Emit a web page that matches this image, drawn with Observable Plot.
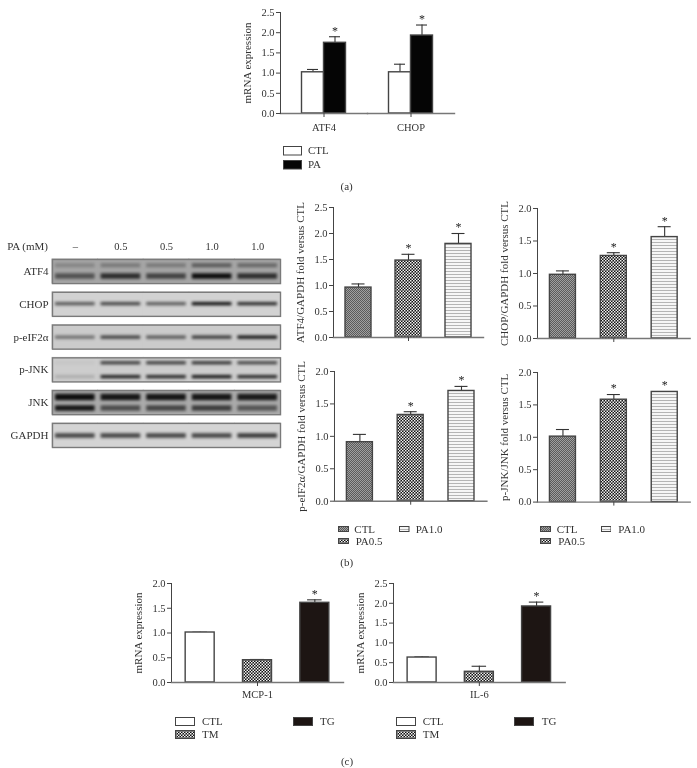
<!DOCTYPE html>
<html><head><meta charset="utf-8">
<script src="https://cdn.jsdelivr.net/npm/d3@7"></script>
<script src="https://cdn.jsdelivr.net/npm/@observablehq/plot@0.6"></script>
<style>
html,body{margin:0;padding:0;background:#fff}
#page{position:relative;width:697px;height:768px;overflow:hidden;font-family:"Liberation Serif",serif;color:#333;filter:blur(0.35px)}
.t{position:absolute;font-size:11px;line-height:12px;white-space:nowrap}
.c{transform:translateX(-50%)}
.s{position:absolute}
</style></head><body>
<div id="page">
<svg width="0" height="0" style="position:absolute"><defs>
<pattern id="fine" width="2" height="2" patternUnits="userSpaceOnUse"><rect width="2" height="2" fill="#a0a0a0"/><rect width="1" height="1" fill="#5a5a5a"/><rect x="1" y="1" width="1" height="1" fill="#5a5a5a"/></pattern>
<pattern id="check" width="3" height="3" patternUnits="userSpaceOnUse"><rect width="3" height="3" fill="#111"/><rect width="1.5" height="1.5" fill="#f2f2f2"/><rect x="1.5" y="1.5" width="1.5" height="1.5" fill="#f2f2f2"/></pattern>
<pattern id="stripe" width="3" height="3" patternUnits="userSpaceOnUse"><rect width="3" height="3" fill="#f6f6f6"/><rect width="3" height="1" fill="#b4b4b4"/></pattern>
</defs></svg>
</div>
<script>
// ---------- data ----------
const genesA = ["ATF4", "CHOP"];
const groupsA = ["CTL", "PA"];
const valuesA = [1.02, 1.75, 1.02, 1.93];
const topsA = [1.09, 1.90, 1.22, 2.19];
const starsA = [false, true, false, true];

const groupsB = ["CTL", "PA0.5", "PA1.0"];
const starsB = [false, true, true];
const atf4Values = [0.96, 1.48, 1.80];
const atf4Tops = [1.03, 1.60, 2.00];
const chopValues = [0.98, 1.27, 1.56];
const chopTops = [1.04, 1.32, 1.72];
const eif2Values = [0.91, 1.33, 1.70];
const eif2Tops = [1.03, 1.38, 1.77];
const jnkValues = [1.01, 1.58, 1.70];
const jnkTops = [1.12, 1.66, 1.705];

const groupsC = ["CTL", "TM", "TG"];
const starsC = [false, false, true];
const mcpValues = [1.01, 0.45, 1.61];
const mcpTops = [1.015, 0.465, 1.67];
const il6Values = [0.63, 0.27, 1.92];
const il6Tops = [0.645, 0.41, 2.03];

const lanes = ["a", "b", "c", "d", "e"];
const laneLabels = ["–", "0.5", "0.5", "1.0", "1.0"];
const blotRows = ["ATF4", "CHOP", "p-eIF2α", "p-JNK", "JNK", "GAPDH"];
const atf4Upper = [0.22, 0.30, 0.30, 0.50, 0.42];
const atf4Lower = [0.55, 0.80, 0.65, 1.00, 0.78];
const chopBand = [0.62, 0.72, 0.60, 1.00, 0.85];
const eif2Band = [0.50, 0.75, 0.62, 0.78, 1.00];
const pjnkUpper = [0.04, 0.80, 0.80, 0.85, 0.75];
const pjnkLower = [0.16, 0.92, 0.88, 0.97, 0.88];
const jnkUpper = [1.00, 0.95, 0.95, 0.95, 0.92];
const jnkLower = [0.95, 0.60, 0.65, 0.70, 0.55];
const gapdhBand = [0.72, 0.72, 0.72, 0.72, 0.78];

// ---------- styling / layout ----------
const page = document.getElementById("page");
const FONT = '"Liberation Serif", serif';
const INK = "#333";
const P = id => `url(#${id})`;
const fillsA = {CTL: "#fff", PA: "#050505"};
const fillsB = {CTL: P("fine"), "PA0.5": P("check"), "PA1.0": P("stripe")};
const fillsC = {CTL: "#fff", TM: P("check"), TG: "#1d1513"};
const ML = 46, MT = 14, MB = 26, MR = 6;

function place(svg, left, top) {
  Object.assign(svg.style, {position: "absolute", left: left + "px", top: top + "px", maxWidth: "none", background: "transparent", overflow: "visible"});
  page.appendChild(svg);
}
function yAxis(label, max) {
  return [
    Plot.axisY({ticks: d3.range(0, max + 0.01, 0.5), tickFormat: d3.format(".1f"), tickSize: 4, tickPadding: 2, fontSize: 10.5, label: null, stroke: "#444"}),
    Plot.axisY({ticks: [], fontSize: 11, label, labelAnchor: "center", labelArrow: "none", labelOffset: 37})
  ];
}
function barMarks(rows, fills, bw) {
  return [
    Plot.ruleX(rows, {x: "group", y1: "value", y2: "top", stroke: "#333", strokeWidth: 1.1}),
    Plot.tickY(rows, {x: "group", y: "top", stroke: "#333", strokeWidth: 1.1, insetLeft: bw / 4, insetRight: bw / 4}),
    Plot.barY(rows, {x: "group", y: "value", fill: d => fills[d.group], stroke: "#444", strokeWidth: 1.4}),
    Plot.text(rows, {filter: "star", x: "group", y: "top", text: () => "*", fontSize: 12, dy: -6, fill: "#222"})
  ];
}
function panel({x0, yTop, yBottom, xEnd, bw, groups, values, tops, stars, fills, yMax, yLabel, tickGroup, tickText}) {
  const w = xEnd - x0, h = yBottom - yTop, step = w / groups.length, pad = 1 - bw / step;
  const rows = groups.map((group, i) => ({group, value: values[i], top: tops[i], star: stars[i]}));
  place(Plot.plot({
    width: ML + w + MR, height: MT + h + MB, marginLeft: ML, marginTop: MT, marginBottom: MB, marginRight: MR,
    style: {fontFamily: FONT, fontSize: "10.5px", color: INK},
    x: {domain: groups, paddingInner: pad, paddingOuter: pad / 2, round: false, axis: null},
    y: {domain: [0, yMax], axis: null},
    color: {type: "identity"},
    marks: [
      ...barMarks(rows, fills, bw),
      Plot.frame({anchor: "left", stroke: "#444"}),
      Plot.frame({anchor: "bottom", stroke: "#777", strokeWidth: 1.4}),
      ...yAxis(yLabel, yMax),
      Plot.axisX({ticks: [tickGroup], tickFormat: () => tickText, tickSize: 4, tickPadding: 4, fontSize: 10.5, label: null, stroke: "#444"})
    ]
  }), x0 - ML, yTop - MT);
}

// panel (a), grouped bars
(function () {
  const x0 = 280, xEnd = 454, yTop = 12, yBottom = 113, w = xEnd - x0, h = yBottom - yTop;
  const rows = genesA.flatMap((gene, g) => groupsA.map((group, i) => ({
    gene, group, value: valuesA[g * 2 + i], top: topsA[g * 2 + i], star: starsA[g * 2 + i]
  })));
  place(Plot.plot({
    width: ML + w + MR, height: MT + h + MB, marginLeft: ML, marginTop: MT, marginBottom: MB, marginRight: MR,
    style: {fontFamily: FONT, fontSize: "10.5px", color: INK},
    fx: {domain: genesA, padding: 0, round: false, axis: null, label: null},
    x: {domain: groupsA, paddingInner: 0, paddingOuter: 0.977, round: false, axis: null},
    y: {domain: [0, 2.5], axis: null},
    color: {type: "identity"},
    facet: {data: rows, x: "gene"},
    marks: [
      ...barMarks(rows, fillsA, 22),
      Plot.frame({anchor: "bottom", stroke: "#777", strokeWidth: 1.4}),
      Plot.frame({anchor: "left", stroke: "#444", facetAnchor: "left"}),
      ...yAxis("mRNA expression", 2.5),
      Plot.axisFx({anchor: "bottom", tickSize: 4, tickPadding: 6, fontSize: 10.5, label: null, stroke: "#444"})
    ]
  }), x0 - ML, yTop - MT);
})();

panel({x0: 333.3, xEnd: 483.3, yTop: 206.7, yBottom: 336.7, bw: 26, groups: groupsB, values: atf4Values, tops: atf4Tops, stars: starsB, fills: fillsB, yMax: 2.5, yLabel: "ATF4/GAPDH fold versus CTL", tickGroup: "PA0.5", tickText: ""});
panel({x0: 536.7, xEnd: 689.3, yTop: 208.3, yBottom: 338.3, bw: 26, groups: groupsB, values: chopValues, tops: chopTops, stars: starsB, fills: fillsB, yMax: 2, yLabel: "CHOP/GAPDH fold versus CTL", tickGroup: "PA0.5", tickText: ""});
panel({x0: 334.3, xEnd: 486.7, yTop: 371, yBottom: 500.7, bw: 26, groups: groupsB, values: eif2Values, tops: eif2Tops, stars: starsB, fills: fillsB, yMax: 2, yLabel: "p-eIF2α/GAPDH fold versus CTL", tickGroup: "PA0.5", tickText: ""});
panel({x0: 537.3, xEnd: 690, yTop: 371.7, yBottom: 501.3, bw: 26, groups: groupsB, values: jnkValues, tops: jnkTops, stars: starsB, fills: fillsB, yMax: 2, yLabel: "p-JNK/JNK fold versus CTL", tickGroup: "PA0.5", tickText: ""});
panel({x0: 170.7, xEnd: 342.7, yTop: 582.7, yBottom: 681.7, bw: 29, groups: groupsC, values: mcpValues, tops: mcpTops, stars: starsC, fills: fillsC, yMax: 2, yLabel: "mRNA expression", tickGroup: "TM", tickText: "MCP-1"});
panel({x0: 393.3, xEnd: 565, yTop: 582.7, yBottom: 681.7, bw: 29, groups: groupsC, values: il6Values, tops: il6Tops, stars: starsC, fills: fillsC, yMax: 2.5, yLabel: "mRNA expression", tickGroup: "TM", tickText: "IL-6"});

// western blot
(function () {
  const x0 = 52, xEnd = 280, yTop = 259.3, yBottom = 447.3, mL = 50, mT = 20, mB = 4, mR = 4;
  const bandSets = [
    {protein: "ATF4", levels: atf4Upper, pos: 0.24, thick: 4},
    {protein: "ATF4", levels: atf4Lower, pos: 0.68, thick: 5.5},
    {protein: "CHOP", levels: chopBand, pos: 0.47, thick: 3.2},
    {protein: "p-eIF2α", levels: eif2Band, pos: 0.5, thick: 3.4},
    {protein: "p-JNK", levels: pjnkUpper, pos: 0.2, thick: 3},
    {protein: "p-JNK", levels: pjnkLower, pos: 0.78, thick: 3.2},
    {protein: "JNK", levels: jnkUpper, pos: 0.26, thick: 6.5},
    {protein: "JNK", levels: jnkLower, pos: 0.72, thick: 5.5},
    {protein: "GAPDH", levels: gapdhBand, pos: 0.5, thick: 4.4}
  ];
  const shades = {"ATF4": "#a6a6a6", "CHOP": "#d2d2d2", "p-eIF2α": "#cbcbcb", "p-JNK": "#cdcdcd", "JNK": "#ababab", "GAPDH": "#d4d4d4"};
  const bands = bandSets.flatMap(b => lanes.map((lane, i) => ({protein: b.protein, lane, pos: b.pos, thick: b.thick, level: b.levels[i]})));
  const backs = blotRows.flatMap(protein => lanes.map(lane => ({protein, lane})));
  const step = (yBottom - yTop + 8.7) / 6;
  place(Plot.plot({
    width: mL + xEnd - x0 + mR, height: mT + yBottom - yTop + mB, marginLeft: mL, marginTop: mT, marginBottom: mB, marginRight: mR,
    style: {fontFamily: FONT, fontSize: "11px", color: INK},
    x: {domain: lanes, padding: 0, round: false, axis: null},
    y: {domain: [1, 0], axis: null},
    fy: {domain: blotRows, paddingInner: 8.7 / step, paddingOuter: 0, round: false, axis: null, label: null},
    color: {type: "identity"},
    opacity: {type: "identity"},
    marks: [
      Plot.barY(backs, {x: "lane", fy: "protein", y1: 0, y2: 1, fill: d => shades[d.protein], inset: -0.5}),
      Plot.tickY(bands, {x: "lane", fy: "protein", y: "pos", stroke: "#0c0c0c", strokeOpacity: "level", strokeWidth: "thick", insetLeft: 3, insetRight: 3, imageFilter: "blur(1.5px)", clip: "frame"}),
      Plot.frame({stroke: "#7a7a7a", strokeWidth: 1.4}),
      Plot.axisFy({anchor: "left", tickSize: 0, tickPadding: 4, fontSize: 11, label: null}),
      Plot.axisX({anchor: "top", tickSize: 0, tickPadding: 10, fontSize: 10.5, label: null, tickFormat: d => laneLabels[lanes.indexOf(d)]})
    ]
  }), x0 - mL, yTop - mT);
})();

// ---------- legends and captions ----------
function text(s, x, y, center) {
  const d = document.createElement("div");
  d.className = "t" + (center ? " c" : "");
  d.textContent = s;
  d.style.left = x + "px"; d.style.top = (y - 6) + "px";
  page.appendChild(d);
}
function swatch(fill, x, y, w, h) {
  const s = d3.create("svg").attr("class", "s").attr("width", w).attr("height", h)
    .style("left", x + "px").style("top", y + "px");
  s.append("rect").attr("x", 0.5).attr("y", 0.5).attr("width", w - 1).attr("height", h - 1)
    .attr("fill", fill).attr("stroke", "#444");
  page.appendChild(s.node());
}
function legendItem(name, fill, sx, sy, sw, sh, tx) {
  swatch(fill, sx, sy, sw, sh);
  text(name, tx, sy + sh / 2 - 0.5);
}
legendItem("CTL", fillsA.CTL, 283, 146, 19, 9.5, 308);
legendItem("PA", fillsA.PA, 283, 160, 19, 9.5, 308);
text("(a)", 346.7, 186, true);

legendItem("CTL", fillsB.CTL, 338, 526, 11, 6, 354.3);
legendItem("PA0.5", fillsB["PA0.5"], 338, 538, 11, 6, 355.7);
legendItem("PA1.0", fillsB["PA1.0"], 399, 526, 10.5, 6, 415.7);
legendItem("CTL", fillsB.CTL, 540, 526, 11, 6, 556.7);
legendItem("PA0.5", fillsB["PA0.5"], 540, 538, 11, 6, 558.3);
legendItem("PA1.0", fillsB["PA1.0"], 600.7, 526, 10.5, 6, 618.3);
text("(b)", 346.7, 561.7, true);

legendItem("CTL", fillsC.CTL, 175, 716.5, 20, 9, 202);
legendItem("TM", fillsC.TM, 175, 730, 20, 9, 202);
legendItem("TG", fillsC.TG, 292.5, 716.5, 20, 9, 320);
legendItem("CTL", fillsC.CTL, 395.5, 716.5, 20, 9, 422.7);
legendItem("TM", fillsC.TM, 395.5, 730, 20, 9, 422.7);
legendItem("TG", fillsC.TG, 513.5, 716.5, 20, 9, 541.7);
text("(c)", 347, 761, true);

const pa = document.createElement("div");
pa.className = "t"; pa.textContent = "PA (mM)";
pa.style.right = (697 - 48) + "px"; pa.style.top = "240px";
page.appendChild(pa);
</script>
</body></html>
